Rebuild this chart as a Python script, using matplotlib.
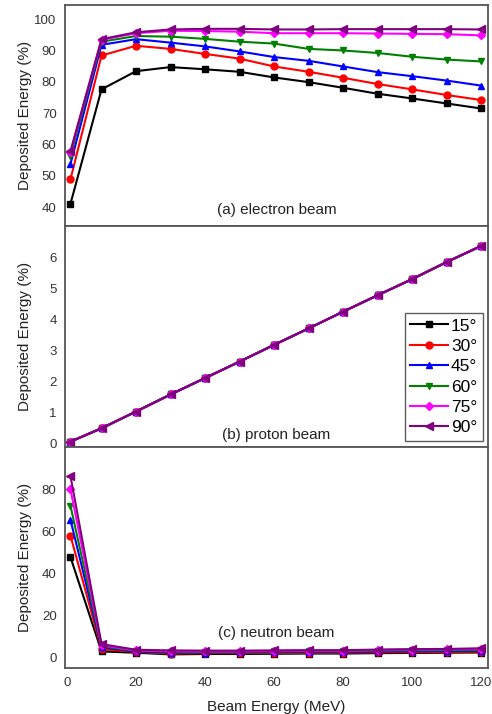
import matplotlib
matplotlib.use('Agg')
import matplotlib.pyplot as plt

plt.rcParams['font.family'] = ['Liberation Sans', 'DejaVu Sans']

energy = [1, 10, 20, 30, 40, 50, 60, 70, 80, 90, 100, 110, 120]
angles = ['15°', '30°', '45°', '60°', '75°', '90°']

# (a) electron beam
electron = [
    [41.1, 77.6, 83.4, 84.7, 84.0, 83.2, 81.4, 79.9, 78.1, 76.2, 74.7, 73.1, 71.5],
    [48.9, 88.4, 91.5, 90.5, 88.9, 87.4, 84.9, 83.2, 81.3, 79.3, 77.6, 75.8, 74.2],
    [53.8, 91.8, 93.6, 92.5, 91.3, 89.7, 87.9, 86.7, 84.9, 83.1, 81.8, 80.4, 78.8],
    [56.5, 92.8, 94.6, 94.4, 93.7, 92.8, 92.2, 90.5, 90.0, 89.2, 88.0, 87.1, 86.5],
    [57.6, 93.4, 95.5, 96.3, 96.2, 96.0, 95.5, 95.5, 95.5, 95.4, 95.3, 95.2, 94.8],
    [57.8, 93.6, 95.8, 96.7, 96.9, 96.9, 96.7, 96.7, 96.8, 96.8, 96.8, 96.8, 96.7],
]

# (b) proton beam (all angles overlap)
proton_vals = [0.05, 0.48, 1.02, 1.57, 2.10, 2.63, 3.17, 3.70, 4.24, 4.77, 5.29, 5.84, 6.36]
proton = [proton_vals] * 6

# (c) neutron beam
neutron = [
    [47.8, 3.0, 2.4, 1.6, 1.8, 1.8, 1.9, 2.0, 2.0, 2.2, 2.3, 2.4, 2.5],
    [58.0, 4.0, 2.8, 2.0, 2.2, 2.2, 2.3, 2.4, 2.4, 2.6, 2.7, 2.8, 2.9],
    [65.5, 5.0, 3.0, 2.5, 2.5, 2.6, 2.7, 2.8, 2.8, 3.0, 3.1, 3.2, 3.4],
    [72.2, 5.5, 3.3, 2.9, 2.8, 2.9, 3.0, 3.1, 3.1, 3.4, 3.5, 3.6, 3.8],
    [80.0, 6.0, 3.5, 3.2, 3.1, 3.1, 3.3, 3.4, 3.4, 3.7, 3.9, 4.0, 4.2],
    [86.3, 6.5, 3.8, 3.5, 3.4, 3.4, 3.5, 3.6, 3.6, 3.9, 4.1, 4.2, 4.5],
]

colors = ['black', 'red', 'blue', 'green', 'magenta', 'purple']
markers = ['s', 'o', '^', 'v', 'D', '<']
msizes = [4, 5, 5, 5, 4, 6]

fig, axs = plt.subplots(3, 1, figsize=(4.92, 7.14), dpi=100, sharex=True)
fig.subplots_adjust(left=0.132, right=0.992, top=0.993, bottom=0.064, hspace=0)

panels = [
    (electron, (34, 104.5), range(40, 101, 10), '(a) electron beam', 0.072),
    (proton, (-0.13, 7.0), range(0, 7), '(b) proton beam', 0.055),
    (neutron, (-5, 100), range(0, 81, 20), '(c) neutron beam', 0.16),
]

for ax, (data, ylim, yticks, label, ty) in zip(axs, panels):
    for i, series in enumerate(data):
        ax.plot(energy, series, color=colors[i], marker=markers[i], markersize=msizes[i],
                linewidth=1.5, label=angles[i])
    ax.set_ylim(*ylim)
    ax.set_yticks(list(yticks))
    ax.set_ylabel('Deposited Energy (%)', fontsize=11, color='#222222')
    ax.yaxis.set_label_coords(-0.078, 0.5)
    ax.text(0.5, ty, label, transform=ax.transAxes, ha='center', va='center',
            fontsize=11, color='#222222')
    ax.tick_params(length=0, labelsize=9.5, labelcolor='#333333', pad=6)
    for sp in ax.spines.values():
        sp.set_color('#555555')
        sp.set_linewidth(1.3)

axs[-1].set_xlim(-0.6, 122)
axs[-1].set_xticks(range(0, 121, 20))
axs[-1].set_xlabel('Beam Energy (MeV)', fontsize=11, color='#222222', labelpad=8)

leg = axs[1].legend(loc='lower right', bbox_to_anchor=(0.987, 0.03), fontsize=12.5,
                    frameon=True, fancybox=False, handlelength=2.2, handletextpad=0.15,
                    labelspacing=0.3, borderpad=0.3, borderaxespad=0)
leg.get_frame().set_edgecolor('#333333')
leg.get_frame().set_linewidth(1.0)

plt.savefig('out.png')
plt.close()
